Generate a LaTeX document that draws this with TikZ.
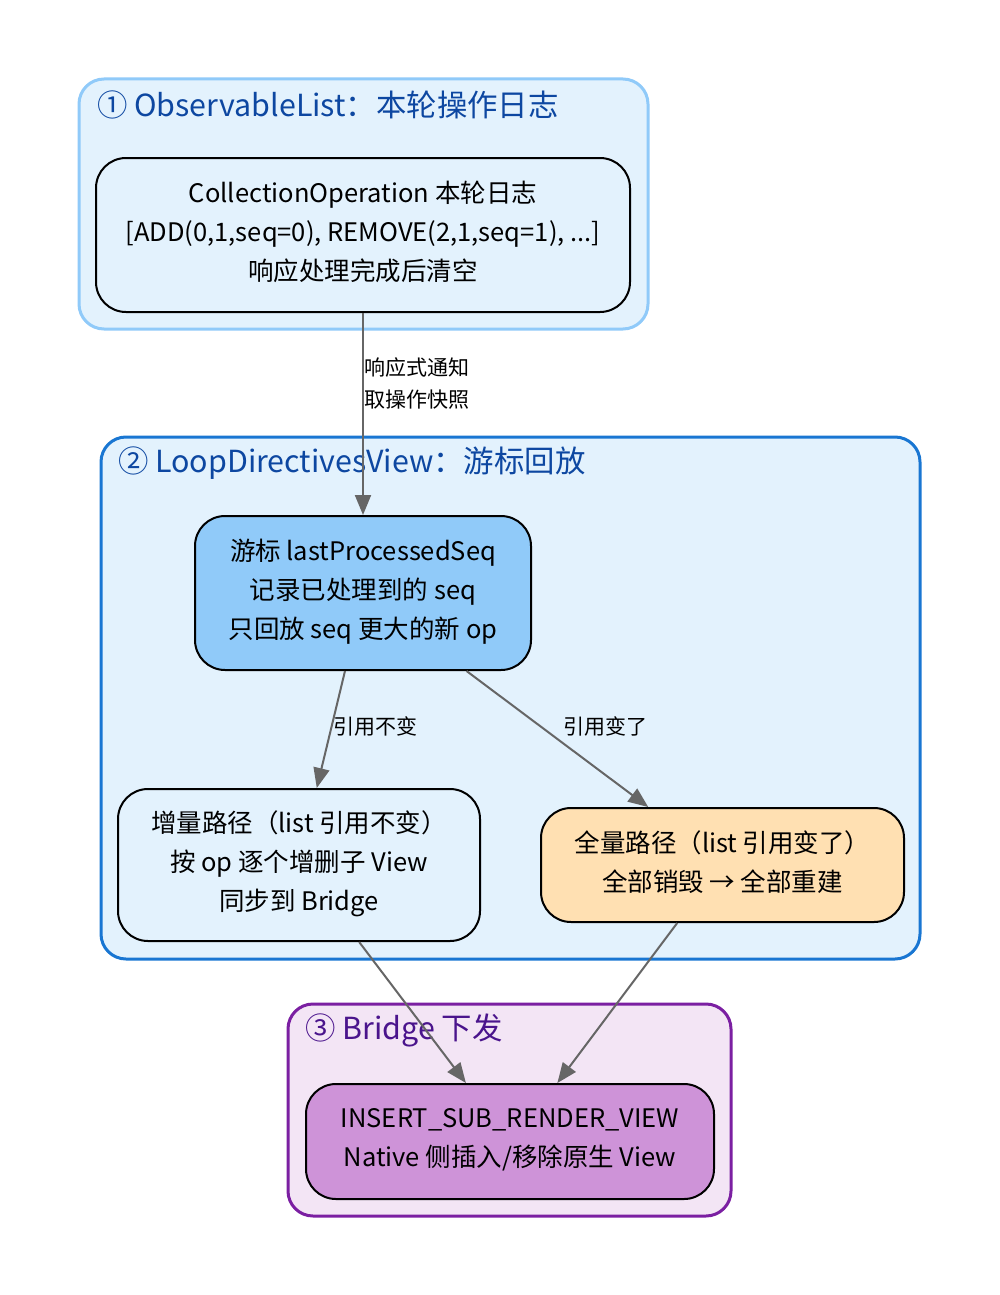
\documentclass[tikz,border=0pt]{standalone}
\usepackage{fontspec}
\setmainfont{Noto Sans CJK SC}
\usetikzlibrary{arrows.meta}
\definecolor{pBlueFill}{HTML}{E3F2FD}
\definecolor{pBlueLine}{HTML}{90CAF9}
\definecolor{pBlueDark}{HTML}{1976D2}
\definecolor{pBlueText}{HTML}{0D47A1}
\definecolor{pCursor}{HTML}{90CAF9}
\definecolor{pOrange}{HTML}{FFE0B2}
\definecolor{pPurpleFill}{HTML}{F3E5F5}
\definecolor{pPurpleLine}{HTML}{7B1FA2}
\definecolor{pPurpleText}{HTML}{4A148C}
\definecolor{pPurpleNode}{HTML}{CE93D8}
\definecolor{pEdge}{HTML}{666666}
\newcommand{\pBodyFont}{\fontsize{25.5}{39}\selectfont}
\newcommand{\pTitleFont}{\fontsize{30.4}{36}\selectfont}
\newcommand{\pEdgeFont}{\fontsize{21}{32}\selectfont}

\begin{document}
\begin{tikzpicture}[x=1pt,y=-1pt,
  clusterbox/.style={rounded corners=25pt, line width=3pt},
  stepbox/.style={draw=black, line width=2pt, rounded corners=30pt, align=center,
    inner sep=0pt, font=\pBodyFont, execute at end node={\rule[-8pt]{0pt}{8pt}}},
  flow/.style={draw=pEdge, line width=2pt, -{Triangle[length=20pt,width=16pt]}},
  cltitle/.style={anchor=west, inner sep=0pt, font=\pTitleFont},
  edgelabel/.style={inner sep=0pt, font=\pEdgeFont}]
\useasboundingbox (0,0) rectangle (1000,1295);
% clusters
\draw[clusterbox, draw=pBlueLine, fill=pBlueFill] (79,79) rectangle (648,329);
\node[cltitle, text=pBlueText] (t1) at (97,105) {① ObservableList：本轮操作日志};
\draw[clusterbox, draw=pBlueDark, fill=pBlueFill] (101,437) rectangle (920,959);
\node[cltitle, text=pBlueText] (t2) at (118,463) {② LoopDirectivesView：游标回放};
\draw[clusterbox, draw=pPurpleLine, fill=pPurpleFill] (288,1004) rectangle (731,1216);
\node[cltitle, text=pPurpleText] (t3) at (305,1030) {③ Bridge 下发};
% nodes
\node[stepbox, fill=pBlueFill, minimum width=534pt, minimum height=154pt] (oplog) at (363,235)
  {CollectionOperation 本轮日志\\{}[ADD(0,1,seq=0), REMOVE(2,1,seq=1), ...]\\响应处理完成后清空};
\node[stepbox, fill=pCursor, minimum width=336pt, minimum height=154pt] (cursor) at (363,593)
  {游标 lastProcessedSeq\\记录已处理到的 seq\\只回放 seq 更大的新 op};
\node[stepbox, fill=pBlueFill, minimum width=362pt, minimum height=152pt] (incr) at (299,865)
  {增量路径（list 引用不变）\\按 op 逐个增删子 View\\同步到 Bridge};
\node[stepbox, fill=pOrange, minimum width=363pt, minimum height=114pt] (full) at (722.5,865)
  {全量路径（list 引用变了）\\全部销毁 → 全部重建};
\node[stepbox, fill=pPurpleNode, minimum width=408pt, minimum height=115pt] (bridge) at (510,1141.5)
  {INSERT\_SUB\_RENDER\_VIEW\\Native 侧插入/移除原生 View};
% edges
\draw[flow] (oplog.south) -- (cursor.north);
\node[edgelabel, anchor=west] (l1) at (364,368) {响应式通知};
\node[edgelabel, anchor=west] (l2) at (364,400) {取操作快照};
\draw[flow] (cursor.257) -- (incr.77);
\node[edgelabel] (l3) at (375,726) {引用不变};
\draw[flow] (cursor.-37) -- (full.142);
\node[edgelabel] (l4) at (605,726) {引用变了};
\draw[flow] (incr.-52.6) -- (bridge.127);
\draw[flow] (full.232.6) -- (bridge.51.8);
\end{tikzpicture}
\end{document}
